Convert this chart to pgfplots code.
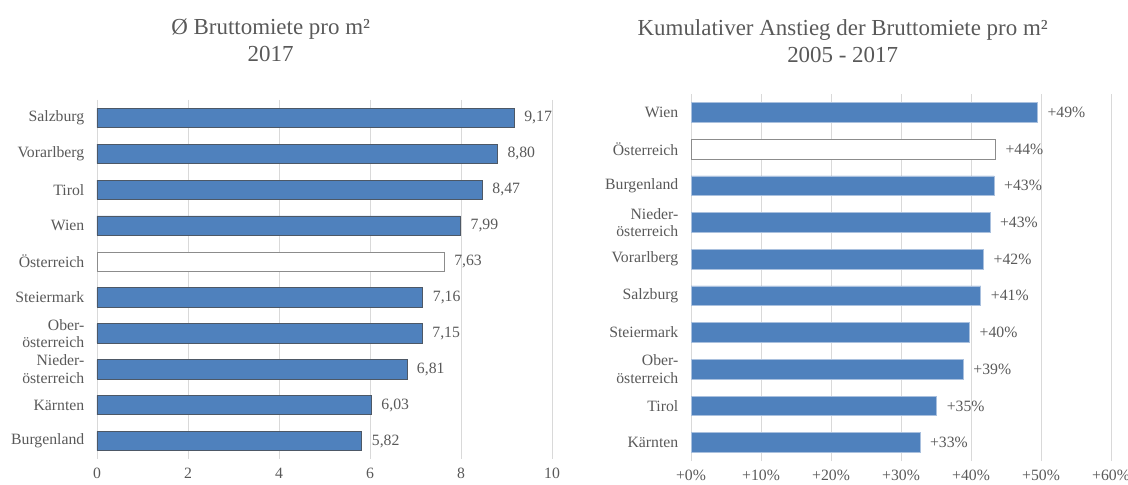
\documentclass[border=0pt]{standalone}
\usepackage{fontspec}
\setmainfont{Liberation Serif}
\usepackage{pgfplots}
\pgfplotsset{compat=1.18}
\definecolor{barblue}{HTML}{4F81BD}
\definecolor{edgedark}{HTML}{4D5866}
\definecolor{edgelight}{HTML}{A9C0DE}
\definecolor{edgegray}{HTML}{8C8C8C}
\definecolor{gridc}{HTML}{D9D9D9}
\definecolor{txt}{HTML}{595959}
\newcommand{\lab}{\fontsize{11.8}{13}\selectfont}
\pgfplotsset{
 rentbars/.style={
   scale only axis, anchor=south west, xbar, y dir=reverse,
   ymin=-0.5, ymax=9.5, ytick={0,...,9},
   xmajorgrids, grid style={draw=gridc, line width=0.6pt},
   axis line style={draw=none}, major tick length=0pt,
   tick label style={font=\lab, text=txt},
   yticklabel style={align=right, xshift=-6pt},
   xticklabel style={yshift=-3pt},
   /pgf/number format/assume math mode=true,
   nodes near coords,
   every node near coord/.append style={font=\lab, text=txt, anchor=west, xshift=4pt},
 }
}

\begin{document}
\begin{tikzpicture}
\path[use as bounding box] (0,0) rectangle (846pt,-363.75pt);

\node[text=txt, font=\fontsize{17.2}{20}\selectfont, align=center] at (203pt,-30pt)
  {Ø Bruttomiete pro m²\\2017};
\node[text=txt, font=\fontsize{17.2}{20}\selectfont, align=center] at (632pt,-31pt)
  {Kumulativer Anstieg der Bruttomiete pro m²\\2005 - 2017};

% left: average gross rent per m2, 2017
\begin{axis}[rentbars, at={(72.75pt,-344.25pt)}, width=341.25pt, height=269.25pt,
 bar width=14.5pt, xmin=0, xmax=10, xtick={0,2,...,10},
 yticklabels={Salzburg,Vorarlberg,Tirol,Wien,Österreich,Steiermark,
   {Ober-\\österreich},{Nieder-\\österreich},Kärnten,Burgenland},
 nodes near coords={\pgfmathprintnumber[use comma,fixed,fixed zerofill,precision=2]{\pgfplotspointmeta}},
]
\addplot[bar shift=0pt, fill=barblue, draw=edgedark, line width=0.5pt] coordinates
 {(9.17,0) (8.80,1) (8.47,2) (7.99,3) (7.16,5) (7.15,6) (6.81,7) (6.03,8) (5.82,9)};
\addplot[bar shift=0pt, fill=white, draw=edgegray, line width=0.5pt] coordinates
 {(7.63,4)};
\end{axis}

% right: cumulative rise 2005-2017
\begin{axis}[rentbars, at={(518.25pt,-345.75pt)}, width=315pt, height=275.25pt,
 bar width=14.8pt, xmin=0, xmax=60, xtick={0,10,...,60},
 xticklabels={+0\%,+10\%,+20\%,+30\%,+40\%,+50\%,+60\%},
 yticklabels={Wien,Österreich,Burgenland,{Nieder-\\österreich},Vorarlberg,Salzburg,
   Steiermark,{Ober-\\österreich},Tirol,Kärnten},
 point meta=explicit symbolic,
]
\addplot[bar shift=0pt, fill=barblue, draw=edgelight, line width=0.5pt] coordinates
 {(49.5,0) [+49\%] (43.3,2) [+43\%] (42.7,3) [+43\%] (41.8,4) [+42\%]
  (41.4,5) [+41\%] (39.8,6) [+40\%] (38.9,7) [+39\%] (35.1,8) [+35\%] (32.7,9) [+33\%]};
\addplot[bar shift=0pt, fill=white, draw=edgegray, line width=0.5pt] coordinates
 {(43.5,1) [+44\%]};
\end{axis}
\end{tikzpicture}
\end{document}
